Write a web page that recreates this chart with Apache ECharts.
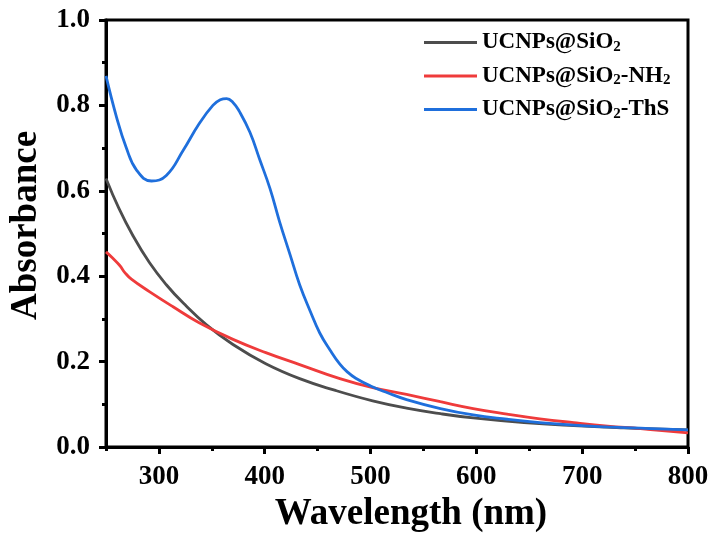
<!DOCTYPE html>
<html>
<head>
<meta charset="utf-8">
<script src="https://cdn.jsdelivr.net/npm/echarts@6/dist/echarts.min.js"></script>
<style>
  html, body { margin: 0; padding: 0; background: #fff; }
  #chart { width: 713px; height: 533px; }
</style>
</head>
<body>
<div id="chart"></div>
<script>
// UV-Vis absorbance spectra of the three nanoparticle samples
const seriesNames = ['UCNPs@SiO2', 'UCNPs@SiO2-NH2', 'UCNPs@SiO2-ThS'];

const wlSiO2 = [250, 262, 275, 291, 307, 323, 345, 370, 401, 433, 466, 502, 534, 566, 597, 645, 692, 739, 800];
const absSiO2 = [0.629, 0.560, 0.497, 0.432, 0.380, 0.337, 0.286, 0.240, 0.195, 0.160, 0.133, 0.108, 0.091, 0.078, 0.068, 0.057, 0.050, 0.045, 0.040];

const wlNH2 = [250, 256, 263, 268, 274, 291, 313, 338, 370, 401, 433, 471, 502, 534, 566, 597, 629, 660, 692, 724, 755, 800];
const absNH2 = [0.457, 0.443, 0.425, 0.408, 0.393, 0.364, 0.329, 0.291, 0.252, 0.221, 0.193, 0.160, 0.139, 0.123, 0.106, 0.090, 0.077, 0.066, 0.057, 0.049, 0.043, 0.033];

const wlThS = [250, 260, 269, 279, 293, 307, 323, 338, 351, 358, 364, 370, 376, 386, 395, 405, 414, 424, 433, 443, 452, 462, 471, 478, 486, 500, 516, 534, 566, 597, 629, 660, 692, 724, 755, 800];
const absThS = [0.869, 0.772, 0.702, 0.648, 0.623, 0.636, 0.695, 0.757, 0.800, 0.813, 0.816, 0.807, 0.786, 0.737, 0.675, 0.605, 0.528, 0.450, 0.380, 0.318, 0.267, 0.226, 0.194, 0.176, 0.161, 0.143, 0.127, 0.111, 0.090, 0.075, 0.065, 0.057, 0.051, 0.047, 0.044, 0.040];

const xMajorTicks = [300, 400, 500, 600, 700, 800];
const xMinorTicks = [250, 350, 450, 550, 650, 750];

const colors = ['#4d4d4d', '#ef3b3b', '#1f6fdc'];
const FONT = 'Liberation Serif';

function pairs(xs, ys) {
  return xs.map((x, i) => [x, ys[i]]);
}

// Legend labels: every "2" in a formula is set as a subscript
function formula(name) {
  const parts = name.split('2');
  let out = '';
  parts.forEach((p, i) => {
    if (p) out += '{m|' + p + '}';
    if (i < parts.length - 1) out += '{s|2}';
  });
  return out;
}

const chart = echarts.init(document.getElementById('chart'), null, { renderer: 'canvas' });

chart.setOption({
  animation: false,
  backgroundColor: '#fff',
  grid: {
    left: 106, right: 25, top: 20, bottom: 86,
    outerBoundsMode: 'none',
    show: true, borderColor: '#000', borderWidth: 3, backgroundColor: 'transparent'
  },
  legend: {
    orient: 'vertical',
    left: 424, top: 31,
    padding: 0,
    icon: 'rect',
    itemWidth: 53, itemHeight: 3, itemGap: 10,
    formatter: formula,
    textStyle: {
      fontFamily: FONT, fontWeight: 'bold', color: '#000',
      rich: {
        m: { fontFamily: FONT, fontWeight: 'bold', fontSize: 23, lineHeight: 24, color: '#000' },
        s: { fontFamily: FONT, fontWeight: 'bold', fontSize: 15, lineHeight: 3, verticalAlign: 'bottom', color: '#000' }
      }
    },
    data: seriesNames
  },
  xAxis: [
    {
      type: 'value', min: 250, max: 800, position: 'bottom',
      axisLine: { lineStyle: { color: '#000', width: 3 } },
      splitLine: { show: false },
      axisTick: { customValues: xMajorTicks, length: 7, lineStyle: { color: '#000', width: 3 } },
      axisLabel: {
        customValues: xMajorTicks, margin: 17,
        fontFamily: FONT, fontWeight: 'bold', fontSize: 27, color: '#000'
      },
      name: 'Wavelength (nm)', nameLocation: 'middle', nameGap: 42,
      nameTextStyle: { fontFamily: FONT, fontWeight: 'bold', fontSize: 37, color: '#000', padding: [0, 0, 0, 28] }
    },
    {
      type: 'value', min: 250, max: 800, position: 'bottom',
      axisLine: { show: false },
      splitLine: { show: false },
      axisTick: { customValues: xMinorTicks, length: 4, lineStyle: { color: '#000', width: 3 } },
      axisLabel: { show: false }
    }
  ],
  yAxis: {
    type: 'value', min: 0, max: 1, interval: 0.2,
    axisLine: { show: true, lineStyle: { color: '#000', width: 3 } },
    splitLine: { show: false },
    axisTick: { show: true, length: 7, lineStyle: { color: '#000', width: 3 } },
    minorTick: { show: true, splitNumber: 2, length: 4, lineStyle: { color: '#000', width: 3 } },
    axisLabel: {
      margin: 16, formatter: v => v.toFixed(1),
      fontFamily: FONT, fontWeight: 'bold', fontSize: 27, color: '#000'
    },
    name: 'Absorbance', nameLocation: 'middle', nameGap: 53, nameRotate: 90,
    nameTextStyle: { fontFamily: FONT, fontWeight: 'bold', fontSize: 37, color: '#000', padding: [0, 0, 0, 16] }
  },
  series: [
    { name: seriesNames[0], data: pairs(wlSiO2, absSiO2) },
    { name: seriesNames[1], data: pairs(wlNH2, absNH2) },
    { name: seriesNames[2], data: pairs(wlThS, absThS) }
  ].map((s, i) => Object.assign({
    type: 'line', xAxisIndex: 0, symbol: 'none', smooth: 0.45,
    lineStyle: { color: colors[i], width: 2.8 },
    itemStyle: { color: colors[i] },
    z: 3 + i
  }, s))
});
</script>
</body>
</html>
